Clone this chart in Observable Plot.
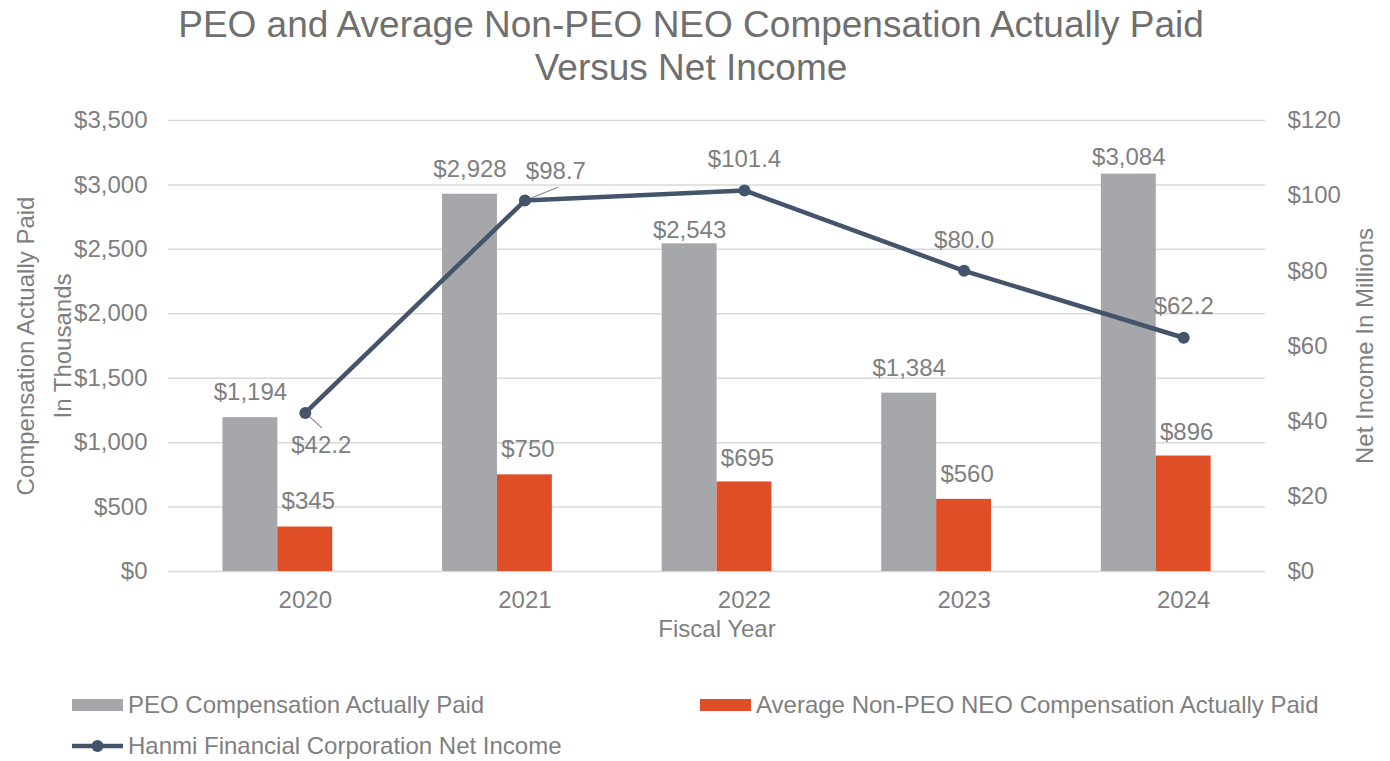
<!DOCTYPE html>
<html><head><meta charset="utf-8">
<script src="https://cdn.jsdelivr.net/npm/d3@7"></script>
<script src="https://cdn.jsdelivr.net/npm/@observablehq/plot@0.6"></script>
<style>
body{margin:0;background:#fff;font-family:"Liberation Sans",Arial,sans-serif;}
#wrap{position:relative;width:1390px;height:761px;overflow:hidden;}
#title{position:absolute;left:0;top:3px;width:1382px;text-align:center;font-size:37px;line-height:43px;color:#6f6f6f;}
#chart{position:absolute;left:0;top:100px;}
.leg{position:absolute;display:flex;align-items:center;font-size:24px;color:#7f7f7f;line-height:24px;white-space:nowrap;}
.leg svg{margin-right:5px;}
</style></head><body>
<div id="wrap">
<div id="title">PEO and Average Non-PEO NEO Compensation Actually Paid<br>Versus Net Income</div>
<div id="chart"></div>
</div>
<script>
// ---- data ----
const years = ["2020", "2021", "2022", "2023", "2024"];
const peoPaid = [1194, 2928, 2543, 1384, 3084];
const neoPaid = [345, 750, 695, 560, 896];
const netIncome = [42.2, 98.7, 101.4, 80.0, 62.2];
const leftTicks = [0, 500, 1000, 1500, 2000, 2500, 3000, 3500];
const rightTicks = [0, 20, 40, 60, 80, 100, 120];
const seriesNames = ["PEO Compensation Actually Paid", "Average Non-PEO NEO Compensation Actually Paid", "Hanmi Financial Corporation Net Income"];

// ---- styling / layout ----
const GRAY = "#a6a7aa", ORANGE = "#e04e27", NAVY = "#44546a", TXT = "#7f7f7f";
const W = 1390, H = 580;
const xRange = [195, 1293];
const step = (xRange[1] - xRange[0]) / years.length;
const bw = step * 0.75, slot = bw / 3;
const k = 3500 / 120; // right-axis units -> left-axis units

const rows = years.map((y, i) => ({year: y, peo: peoPaid[i], neo: neoPaid[i], inc: netIncome[i]}));
const money = d3.format("$,");

const peoDy = {"2020": -25, "2021": -25, "2022": -14, "2023": -25, "2024": -17};
const neoDy = {"2020": -26, "2021": -26, "2022": -24, "2023": -25, "2024": -24};
const incOff = {"2020": [16, 32], "2021": [31, -29], "2022": [0, -31], "2023": [0, -31], "2024": [0, -31]};

const lineShape = {draw(c, l) { c.moveTo(0, 0); c.lineTo(0, -l); }};

const marks = [
  Plot.ruleY(leftTicks, {stroke: "#d9d9d9", strokeWidth: 1.5}),
  Plot.axisY({anchor: "left", ticks: leftTicks, tickFormat: money, tickSize: 0, tickPadding: 21, label: null, fill: TXT}),
  Plot.axisY({anchor: "right", ticks: rightTicks.map(v => v * k), tickFormat: d => "$" + Math.round(d / k), tickSize: 0, tickPadding: 22, label: null, fill: TXT}),
  Plot.axisX({tickSize: 0, tickPadding: 19, label: null, fill: TXT}),
  Plot.barY(rows, {x: "year", y: "peo", fill: GRAY, insetRight: 2 * slot}),
  Plot.barY(rows, {x: "year", y: "neo", fill: ORANGE, insetLeft: slot, insetRight: slot}),
  Plot.vector([rows[0]], {x: "year", y: d => d.inc * k, rotate: 132, length: 22, anchor: "start", shape: lineShape, stroke: "#8a8a8a", strokeWidth: 1.2}),
  Plot.vector([rows[1]], {x: "year", y: d => d.inc * k, rotate: 68, length: 35, anchor: "start", shape: lineShape, stroke: "#8a8a8a", strokeWidth: 1.2}),
  Plot.line(rows, {x: "year", y: d => d.inc * k, stroke: NAVY, strokeWidth: 4.5}),
  Plot.dot(rows, {x: "year", y: d => d.inc * k, r: 6, fill: NAVY}),
  ...rows.map(r => Plot.text([r], {x: "year", y: "peo", text: d => money(d.peo), dx: -slot, dy: peoDy[r.year], fill: TXT})),
  ...rows.map(r => Plot.text([r], {x: "year", y: "neo", text: d => money(d.neo), dx: 3, dy: neoDy[r.year], fill: TXT})),
  ...rows.map(r => Plot.text([r], {x: "year", y: d => d.inc * k, text: d => "$" + d.inc.toFixed(1), dx: incOff[r.year][0], dy: incOff[r.year][1], fill: TXT})),
  Plot.text(["Compensation Actually Paid\nIn Thousands"], {frameAnchor: "left", textAnchor: "middle", lineAnchor: "middle", rotate: -90, dx: -128, lineHeight: 1.55, fill: TXT}),
  Plot.text(["Net Income In Millions"], {frameAnchor: "right", textAnchor: "middle", lineAnchor: "middle", rotate: -90, dx: 100, fill: TXT}),
  Plot.text(["Fiscal Year"], {frameAnchor: "bottom", dy: 65, fill: TXT})
];

const chart = Plot.plot({
  width: W, height: H,
  marginLeft: 168, marginRight: 125, marginTop: 20, marginBottom: 109,
  style: {fontFamily: "'Liberation Sans', Arial, sans-serif", fontSize: "24px", background: "transparent", color: TXT, overflow: "visible"},
  x: {type: "band", domain: years, range: xRange, paddingInner: 0.25, paddingOuter: 0.125, round: false},
  y: {domain: [0, 3500]},
  marks
});
document.getElementById("chart").appendChild(chart);

// ---- legend ----
const wrap = document.getElementById("wrap");
const legendItems = [
  {name: seriesNames[0], kind: "bar", color: GRAY, left: 72, top: 705},
  {name: seriesNames[1], kind: "bar", color: ORANGE, left: 700, top: 705},
  {name: seriesNames[2], kind: "line", color: NAVY, left: 72, top: 746}
];
for (const it of legendItems) {
  const div = document.createElement("div");
  div.className = "leg";
  div.style.left = it.left + "px";
  div.style.top = (it.top - 12) + "px";
  const sw = d3.create("svg").attr("width", 51).attr("height", 24);
  if (it.kind === "bar") {
    sw.append("rect").attr("x", 0).attr("y", 6).attr("width", 51).attr("height", 12).attr("fill", it.color);
  } else {
    sw.append("line").attr("x1", 0).attr("x2", 51).attr("y1", 12).attr("y2", 12).attr("stroke", it.color).attr("stroke-width", 4.5);
    sw.append("circle").attr("cx", 25.5).attr("cy", 12).attr("r", 6).attr("fill", it.color);
  }
  div.appendChild(sw.node());
  const span = document.createElement("span");
  span.textContent = it.name;
  div.appendChild(span);
  wrap.appendChild(div);
}
</script>
</body></html>
